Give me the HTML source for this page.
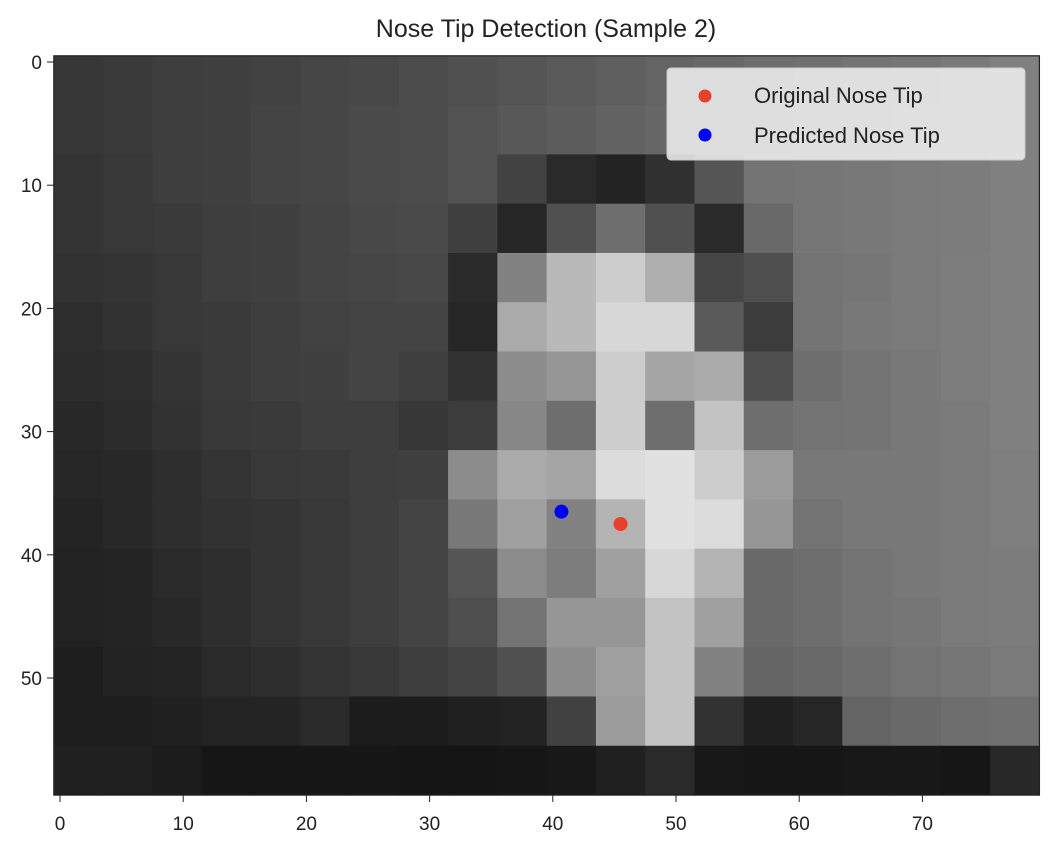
<!DOCTYPE html>
<html><head><meta charset="utf-8"><style>
body{margin:0;background:#fff;width:1048px;height:856px;overflow:hidden;font-family:"Liberation Sans","DejaVu Sans",sans-serif}
</style></head><body>
<svg width="1048" height="856" xmlns="http://www.w3.org/2000/svg">
<text x="546" y="37" font-size="25" text-anchor="middle" fill="#222">Nose Tip Detection (Sample 2)</text>
<g id="img"></g>
<rect x="53.8" y="55.8" width="985.6" height="739.2" fill="none" stroke="#222" stroke-width="1.2"/>
<g id="xt"></g>
<g id="yt"></g>
<g id="pts"></g>
<g>
<rect x="667" y="68" width="358" height="92" rx="4" fill="#f2f2f2" fill-opacity="0.85" stroke="#ccc"/>
<circle cx="705" cy="96" r="6.5" fill="#e8402a"/>
<text x="754" y="103" font-size="22" fill="#222">Original Nose Tip</text>
<circle cx="705" cy="135" r="6.5" fill="#0000ff"/>
<text x="754" y="143" font-size="22" fill="#222">Predicted Nose Tip</text>
</g>
</svg>
<script>
const xTicks=[0,10,20,30,40,50,60,70];
const yTicks=[0,10,20,30,40,50];
const original=[45.5,37.5];
const predicted=[40.7,36.5];
const pixels=[
[55,58,62,64,66,70,72,76,80,85,90,95,100,105,110,112,115,118,122,128],
[55,58,62,64,68,70,74,76,82,88,92,98,102,108,110,115,118,120,122,128],
[52,56,62,64,68,70,74,76,82,66,42,35,48,85,115,118,120,122,124,128],
[52,56,58,62,64,68,72,74,64,38,80,110,80,42,105,118,120,122,124,128],
[50,52,56,62,64,68,70,72,42,130,185,205,175,70,78,115,118,122,125,128],
[46,50,56,58,62,66,68,68,38,170,185,215,215,90,60,115,120,122,125,128],
[44,46,52,58,62,64,68,64,50,140,150,205,165,170,78,110,116,120,125,128],
[40,44,50,56,58,62,62,55,60,135,110,205,110,195,110,115,116,120,122,128],
[38,40,46,52,56,58,62,64,140,170,165,220,225,205,155,120,120,120,122,126],
[36,40,46,50,52,56,62,68,120,160,130,180,225,220,150,115,120,120,122,126],
[34,36,42,46,52,56,62,68,85,140,125,160,215,180,105,110,115,120,122,124],
[34,36,40,46,52,56,62,68,78,115,150,150,195,160,105,110,115,118,122,124],
[30,34,36,42,46,52,56,62,68,80,140,160,195,130,100,105,110,115,118,122],
[30,30,32,36,36,42,28,28,32,34,65,155,195,50,32,38,100,105,110,112],
[32,32,28,22,22,22,22,20,20,22,24,32,42,24,22,22,24,24,22,40]
];
const NS="http://www.w3.org/2000/svg";
const sx=v=>60+v*12.32, sy=v=>62+v*12.32;
const block=4;
const img=document.getElementById('img');
pixels.forEach((row,r)=>row.forEach((g,c)=>{
 const e=document.createElementNS(NS,'rect');
 e.setAttribute('x',sx(c*block-0.5));e.setAttribute('y',sy(r*block-0.5));
 e.setAttribute('width',block*12.32+0.6);e.setAttribute('height',block*12.32+0.6);
 e.setAttribute('fill',`rgb(${g},${g},${g})`);
 
 
 img.appendChild(e);
}));
const xt=document.getElementById('xt');
xTicks.forEach(t=>{
 const l=document.createElementNS(NS,'line');
 l.setAttribute('x1',sx(t));l.setAttribute('x2',sx(t));l.setAttribute('y1',795);l.setAttribute('y2',802);l.setAttribute('stroke','#222');
 
 
 xt.appendChild(l);
 const s=document.createElementNS(NS,'text');
 s.setAttribute('x',sx(t));s.setAttribute('y',830);s.setAttribute('font-size','19');s.setAttribute('text-anchor','middle');s.setAttribute('fill','#222');
 s.textContent=t;
 
 
 xt.appendChild(s);
});
const yt=document.getElementById('yt');
yTicks.forEach(t=>{
 const l=document.createElementNS(NS,'line');
 l.setAttribute('x1',47);l.setAttribute('x2',53.8);l.setAttribute('y1',sy(t));l.setAttribute('y2',sy(t));l.setAttribute('stroke','#222');
 
 
 yt.appendChild(l);
 const s=document.createElementNS(NS,'text');
 s.setAttribute('x',42);s.setAttribute('y',sy(t)+7);s.setAttribute('font-size','19');s.setAttribute('text-anchor','end');s.setAttribute('fill','#222');
 s.textContent=t;
 
 
 yt.appendChild(s);
});
const pts=document.getElementById('pts');
[[original,'#e8402a','original-nose-tip'],[predicted,'#0000ff','predicted-nose-tip']].forEach(([p,c,n])=>{
 const e=document.createElementNS(NS,'circle');
 e.setAttribute('cx',sx(p[0]));e.setAttribute('cy',sy(p[1]));e.setAttribute('r',7);e.setAttribute('fill',c);
 
 
 pts.appendChild(e);
});
</script>
</body></html>
